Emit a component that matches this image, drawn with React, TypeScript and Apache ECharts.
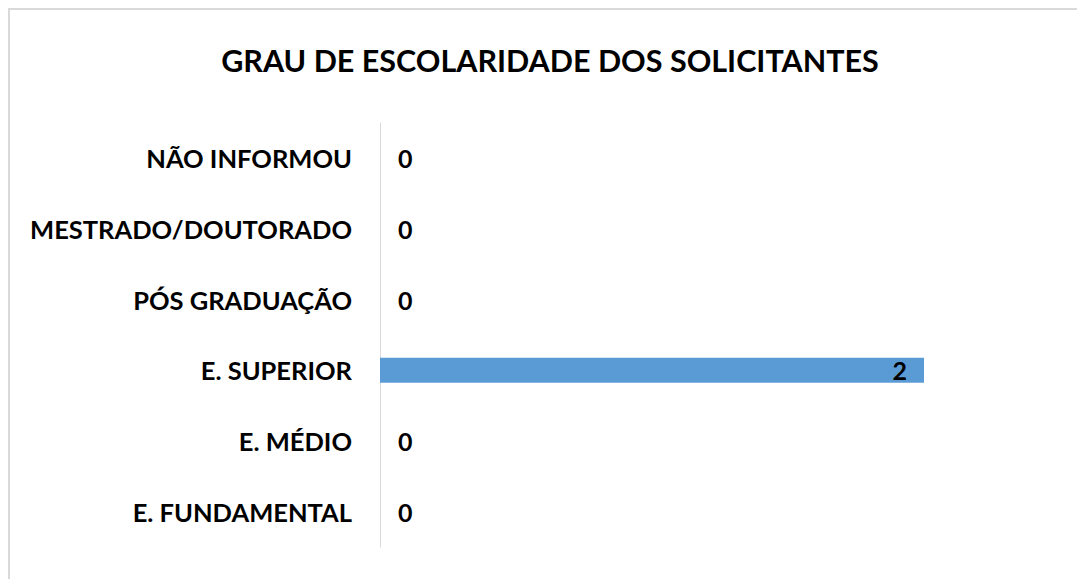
import React, { useEffect, useRef } from "react";
import * as echarts from "echarts";

const titleText = "GRAU DE ESCOLARIDADE DOS SOLICITANTES";
const categories = [
  "E. FUNDAMENTAL",
  "E. MÉDIO",
  "E. SUPERIOR",
  "PÓS GRADUAÇÃO",
  "MESTRADO/DOUTORADO",
  "NÃO INFORMOU",
];
const values = [0, 0, 2, 0, 0, 0];
const xMax = 2;

const FONT = "Lato";

export default function App() {
  const ref = useRef<HTMLDivElement>(null);
  useEffect(() => {
    if (!ref.current) return;
    const chart = echarts.init(ref.current, undefined, { renderer: "svg" });
    chart.setOption({
      animation: false,
      backgroundColor: "#ffffff",
      title: {
        text: titleText,
        left: 537,
        top: 31,
        textAlign: "center",
        textStyle: { fontFamily: FONT, fontSize: 30.5, fontWeight: "bold", color: "#000000" },
      },
      graphic: [
        { type: "rect", shape: { x: 0, y: 0, width: 1069, height: 2 }, style: { fill: "#d9d9d9" } },
        { type: "rect", shape: { x: 0, y: 0, width: 2, height: 571 }, style: { fill: "#d9d9d9" } },
      ],
      grid: { left: 372, right: 153, top: 115, bottom: 32, containLabel: false },
      xAxis: {
        type: "value",
        min: 0,
        max: xMax,
        show: false,
      },
      yAxis: {
        type: "category",
        data: categories,
        axisLine: { show: true, lineStyle: { color: "#d9d9d9", width: 1 } },
        axisTick: { show: false },
        splitLine: { show: false },
        axisLabel: {
          margin: 28,
          fontFamily: FONT,
          fontSize: 25.5,
          fontWeight: "bold",
          color: "#000000",
        },
      },
      series: [
        {
          type: "bar",
          data: values.map((v) => ({
            value: v,
            label: v > 0 ? { position: "insideRight", distance: 17 } : { position: "right", distance: 18 },
          })),
          barWidth: 25,
          itemStyle: { color: "#5b9bd5" },
          label: {
            show: true,
            fontFamily: FONT,
            fontSize: 25,
            fontWeight: "bold",
            color: "#000000",
          },
        },
      ],
    });
    return () => chart.dispose();
  }, []);
  return <div ref={ref} style={{ width: 1069, height: 571 }} />;
}
